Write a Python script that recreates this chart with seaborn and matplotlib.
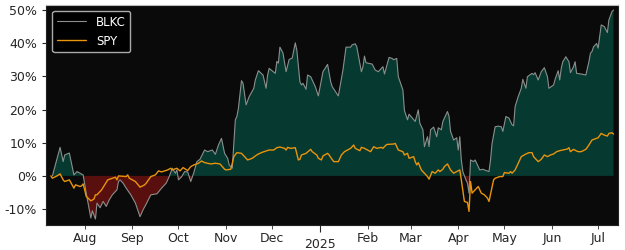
# ============================================
# BLKC vs SPY - rendimiento acumulado
# ============================================

import pandas as pd
import numpy as np
import matplotlib
matplotlib.use("Agg")
import matplotlib.pyplot as plt
import matplotlib.dates as mdates
import seaborn as sns


# 1 Datos (en %)

blkc_fechas = [
    "2024-07-11", "2024-07-16", "2024-07-18", "2024-07-19", "2024-07-22", "2024-07-25", "2024-07-27",
    "2024-07-29", "2024-07-31", "2024-08-02", "2024-08-05", "2024-08-06", "2024-08-08", "2024-08-09",
    "2024-08-11", "2024-08-13", "2024-08-15", "2024-08-17", "2024-08-19", "2024-08-22", "2024-08-23",
    "2024-08-24", "2024-08-26", "2024-08-28", "2024-08-31", "2024-09-03", "2024-09-06", "2024-09-08",
    "2024-09-10", "2024-09-13", "2024-09-17", "2024-09-20", "2024-09-23", "2024-09-25", "2024-09-27",
    "2024-09-29", "2024-09-30", "2024-10-01", "2024-10-03", "2024-10-05", "2024-10-07", "2024-10-09",
    "2024-10-11", "2024-10-13", "2024-10-15", "2024-10-18", "2024-10-20", "2024-10-23", "2024-10-25",
    "2024-10-27", "2024-10-29", "2024-10-31", "2024-11-02", "2024-11-03", "2024-11-05", "2024-11-07",
    "2024-11-08", "2024-11-09", "2024-11-11", "2024-11-12", "2024-11-14", "2024-11-16", "2024-11-19",
    "2024-11-20", "2024-11-22", "2024-11-25", "2024-11-27", "2024-11-28", "2024-11-29", "2024-12-03",
    "2024-12-04", "2024-12-05", "2024-12-06", "2024-12-08", "2024-12-10", "2024-12-12", "2024-12-14",
    "2024-12-16", "2024-12-17", "2024-12-19", "2024-12-20", "2024-12-21", "2024-12-23", "2024-12-24",
    "2024-12-26", "2024-12-29", "2024-12-31", "2025-01-03", "2025-01-06", "2025-01-08", "2025-01-09",
    "2025-01-13", "2025-01-16", "2025-01-18", "2025-01-21", "2025-01-22", "2025-01-24", "2025-01-25",
    "2025-01-28", "2025-01-29", "2025-01-30", "2025-01-31", "2025-02-04", "2025-02-06", "2025-02-08",
    "2025-02-11", "2025-02-12", "2025-02-15", "2025-02-17", "2025-02-18", "2025-02-20", "2025-02-21",
    "2025-02-24", "2025-02-25", "2025-02-27", "2025-02-28", "2025-03-04", "2025-03-06", "2025-03-07",
    "2025-03-09", "2025-03-10", "2025-03-12", "2025-03-13", "2025-03-14", "2025-03-16", "2025-03-18",
    "2025-03-19", "2025-03-21", "2025-03-22", "2025-03-25", "2025-03-26", "2025-03-27", "2025-03-29",
    "2025-03-31", "2025-04-01", "2025-04-02", "2025-04-03", "2025-04-04", "2025-04-06", "2025-04-07",
    "2025-04-08", "2025-04-09", "2025-04-11", "2025-04-12", "2025-04-14", "2025-04-15", "2025-04-17",
    "2025-04-18", "2025-04-21", "2025-04-22", "2025-04-23", "2025-04-25", "2025-04-27", "2025-04-29",
    "2025-04-30", "2025-05-02", "2025-05-04", "2025-05-06", "2025-05-07", "2025-05-08", "2025-05-10",
    "2025-05-12", "2025-05-13", "2025-05-15", "2025-05-16", "2025-05-19", "2025-05-20", "2025-05-21",
    "2025-05-23", "2025-05-25", "2025-05-27", "2025-05-29", "2025-05-30", "2025-06-02", "2025-06-03",
    "2025-06-05", "2025-06-06", "2025-06-07", "2025-06-08", "2025-06-10", "2025-06-12", "2025-06-13",
    "2025-06-15", "2025-06-16", "2025-06-17", "2025-06-20", "2025-06-23", "2025-06-25", "2025-06-26",
    "2025-06-27", "2025-06-28", "2025-06-30", "2025-07-01", "2025-07-03", "2025-07-05", "2025-07-07",
    "2025-07-08", "2025-07-10", "2025-07-11",
]
blkc_valores = [
    0.0, 8.6, 4.3, 6.3, 6.9, 0.3, 1.3,
    0.8, 0.3, -5.2, -12.7, -10.5, -13.0, -8.2,
    -9.6, -7.7, -9.2, -7.2, -5.7, -4.2, -1.7,
    -1.2, -2.2, -3.7, -5.7, -8.2, -12.3, -10.2,
    -8.5, -5.7, -5.4, -3.7, -2.2, -0.2, 2.3,
    0.8, 1.8, -1.2, -0.3, 1.3, 1.2, -1.7,
    1.0, 4.3, 5.0, 7.8, 7.3, 7.8, 6.5,
    9.3, 11.3, 6.8, 5.3, 3.3, 2.3, 16.9,
    17.9, 20.4, 28.7, 27.9, 21.4, 23.9, 26.4,
    28.9, 31.7, 30.4, 26.4, 30.4, 32.4, 30.9,
    34.5, 34.0, 38.8, 37.0, 31.4, 35.1, 35.5,
    40.1, 37.9, 28.4, 27.4, 27.9, 26.1, 30.4,
    29.9, 26.9, 24.1, 31.4, 33.6, 28.4, 26.9,
    24.1, 31.9, 38.8, 38.8, 39.5, 39.8, 38.9,
    31.4, 32.9, 36.1, 34.1, 33.7, 31.9, 31.4,
    32.9, 30.7, 35.7, 35.4, 35.0, 35.4, 29.9,
    25.9, 19.7, 16.9, 18.6, 16.4, 19.9, 15.9,
    13.9, 8.8, 11.8, 8.8, 13.9, 14.7, 11.8,
    14.5, 13.9, 16.4, 19.4, 18.0, 13.4, 10.8,
    11.5, 7.8, 11.8, 4.8, 1.3, -1.2, -2.2,
    -5.2, 4.8, 4.3, 4.8, 2.8, 1.8, 2.0,
    1.8, 1.3, 4.8, 9.8, 14.8, 15.0, 14.8,
    13.4, 17.9, 17.4, 15.4, 15.1, 20.9, 23.9,
    26.4, 29.1, 26.4, 29.9, 30.9, 30.5, 31.1,
    28.9, 31.4, 32.6, 29.9, 26.4, 27.4, 29.1,
    31.7, 28.9, 32.4, 34.4, 35.9, 34.4, 31.1,
    32.9, 34.4, 30.9, 30.7, 30.4, 34.4, 37.0,
    37.5, 38.9, 39.9, 38.5, 45.5, 45.0, 43.2,
    47.0, 49.5, 50.0,
]

spy_fechas = [
    "2024-07-10", "2024-07-11", "2024-07-14", "2024-07-16", "2024-07-18", "2024-07-19", "2024-07-22",
    "2024-07-23", "2024-07-25", "2024-07-26", "2024-07-29", "2024-07-30", "2024-07-31", "2024-08-01",
    "2024-08-02", "2024-08-05", "2024-08-07", "2024-08-08", "2024-08-09", "2024-08-12", "2024-08-14",
    "2024-08-16", "2024-08-19", "2024-08-21", "2024-08-22", "2024-08-23", "2024-08-28", "2024-08-29",
    "2024-08-30", "2024-09-03", "2024-09-06", "2024-09-09", "2024-09-10", "2024-09-13", "2024-09-16",
    "2024-09-18", "2024-09-20", "2024-09-24", "2024-09-26", "2024-09-27", "2024-09-30", "2024-10-02",
    "2024-10-04", "2024-10-07", "2024-10-09", "2024-10-11", "2024-10-14", "2024-10-16", "2024-10-18",
    "2024-10-22", "2024-10-25", "2024-10-28", "2024-10-31", "2024-11-01", "2024-11-04", "2024-11-05",
    "2024-11-06", "2024-11-08", "2024-11-11", "2024-11-13", "2024-11-15", "2024-11-18", "2024-11-20",
    "2024-11-22", "2024-11-25", "2024-11-29", "2024-12-02", "2024-12-04", "2024-12-06", "2024-12-09",
    "2024-12-10", "2024-12-11", "2024-12-13", "2024-12-16", "2024-12-18", "2024-12-19", "2024-12-20",
    "2024-12-23", "2024-12-26", "2024-12-27", "2024-12-30", "2024-12-31", "2025-01-02", "2025-01-03",
    "2025-01-06", "2025-01-07", "2025-01-08", "2025-01-10", "2025-01-13", "2025-01-15", "2025-01-17",
    "2025-01-21", "2025-01-23", "2025-01-24", "2025-01-27", "2025-01-28", "2025-01-30", "2025-02-03",
    "2025-02-05", "2025-02-07", "2025-02-10", "2025-02-11", "2025-02-13", "2025-02-14", "2025-02-18",
    "2025-02-19", "2025-02-21", "2025-02-24", "2025-02-25", "2025-02-27", "2025-02-28", "2025-03-03",
    "2025-03-04", "2025-03-05", "2025-03-06", "2025-03-08", "2025-03-10", "2025-03-12", "2025-03-13",
    "2025-03-15", "2025-03-17", "2025-03-19", "2025-03-20", "2025-03-22", "2025-03-23", "2025-03-25",
    "2025-03-27", "2025-03-29", "2025-03-31", "2025-04-02", "2025-04-03", "2025-04-05", "2025-04-07",
    "2025-04-08", "2025-04-09", "2025-04-10", "2025-04-12", "2025-04-14", "2025-04-16", "2025-04-18",
    "2025-04-20", "2025-04-21", "2025-04-24", "2025-04-25", "2025-04-28", "2025-04-30", "2025-05-01",
    "2025-05-04", "2025-05-05", "2025-05-06", "2025-05-08", "2025-05-10", "2025-05-12", "2025-05-15",
    "2025-05-17", "2025-05-19", "2025-05-20", "2025-05-22", "2025-05-23", "2025-05-25", "2025-05-27",
    "2025-05-29", "2025-05-31", "2025-06-02", "2025-06-04", "2025-06-06", "2025-06-08", "2025-06-11",
    "2025-06-12", "2025-06-13", "2025-06-15", "2025-06-17", "2025-06-18", "2025-06-20", "2025-06-23",
    "2025-06-25", "2025-06-27", "2025-06-30", "2025-07-01", "2025-07-03", "2025-07-05", "2025-07-07",
    "2025-07-08", "2025-07-10", "2025-07-11",
]
spy_valores = [
    0.0, -0.7, 0.0, 0.6, -1.2, -1.7, -1.2,
    -2.0, -3.7, -2.7, -3.2, -3.0, -2.4, -4.2,
    -6.2, -7.5, -7.0, -5.7, -5.7, -4.2, -2.7,
    -1.2, -0.7, -0.4, -1.2, 0.0, -0.2, 0.3,
    -0.7, -1.7, -3.4, -2.7, -2.2, -0.2, 0.3,
    1.5, 1.2, 1.8, 2.3, 1.8, 2.3, 1.5,
    2.5, 1.6, 2.8, 3.3, 3.8, 4.5, 4.0,
    3.6, 3.8, 3.6, 2.0, 1.8, 2.0, 3.8,
    5.8, 7.0, 6.8, 5.8, 4.8, 5.3, 6.0,
    6.6, 7.2, 7.8, 7.8, 8.5, 8.7, 8.3,
    7.8, 8.6, 8.3, 8.5, 4.8, 5.0, 6.3,
    6.8, 8.0, 7.3, 6.3, 5.3, 4.8, 6.0,
    6.8, 6.3, 5.6, 4.3, 4.3, 6.3, 7.3,
    8.3, 9.3, 8.3, 7.6, 8.6, 8.3, 7.3,
    8.8, 8.3, 8.6, 8.3, 9.3, 9.5, 9.6,
    9.8, 7.8, 7.3, 6.3, 6.8, 5.3, 5.8,
    4.3, 3.3, 4.0, 1.8, 0.8, -0.2, -1.0,
    1.3, 0.8, 1.8, 1.3, 2.0, 2.8, 3.6,
    1.8, 0.8, 1.3, 1.8, -1.2, -7.7, -8.0,
    -10.7, -1.7, -5.2, -4.2, -3.2, -5.2, -5.7,
    -6.7, -7.7, -1.2, -0.7, -0.2, -0.2, 1.0,
    0.8, 1.3, 0.8, 1.8, 3.8, 5.8, 6.6,
    7.0, 7.0, 5.8, 4.8, 4.3, 5.0, 6.3,
    5.8, 6.3, 6.6, 7.3, 7.6, 7.8, 8.1,
    8.5, 7.3, 8.0, 7.5, 7.3, 7.3, 8.0,
    9.3, 10.8, 11.3, 11.5, 12.8, 12.3, 12.0,
    12.8, 13.0, 12.6,
]

df_blkc = pd.DataFrame({"fecha": pd.to_datetime(blkc_fechas), "valor": blkc_valores})
df_spy = pd.DataFrame({"fecha": pd.to_datetime(spy_fechas), "valor": spy_valores})


# 2 Grafico

sns.set_style("ticks")

fig = plt.figure(figsize=(6.25, 2.5), dpi=100)
ax = fig.add_axes([0.074, 0.10, 0.915, 0.88])
ax.set_facecolor("#0a0a0a")

# relleno verde sobre 0, rojo debajo
x = df_blkc["fecha"].values
y = df_blkc["valor"].values
ax.fill_between(x, y, 0, where=y >= 0, interpolate=True, color="#06392f", linewidth=0)
ax.fill_between(x, y, 0, where=y < 0, interpolate=True, color="#5a0f0f", linewidth=0)

sns.lineplot(data=df_blkc, x="fecha", y="valor", ax=ax, color="#8a8f8d", linewidth=0.8, label="BLKC")
sns.lineplot(data=df_spy, x="fecha", y="valor", ax=ax, color="#e8940c", linewidth=1.0, label="SPY")

ax.set_xlim(pd.Timestamp("2024-07-07"), pd.Timestamp("2025-07-14"))
ax.set_ylim(-14.8, 51.5)
ax.set_xlabel("")
ax.set_ylabel("")

ax.set_yticks([-10, 0, 10, 20, 30, 40, 50])
ax.set_yticklabels([f"{v}%" for v in [-10, 0, 10, 20, 30, 40, 50]])

# fechas: año como tick mayor, meses como menores
ax.xaxis.set_major_locator(mdates.YearLocator())
ax.xaxis.set_major_formatter(mdates.DateFormatter("%Y"))
ax.xaxis.set_minor_locator(mdates.MonthLocator(bymonth=[2, 3, 4, 5, 6, 7, 8, 9, 10, 11, 12]))
ax.xaxis.set_minor_formatter(mdates.DateFormatter("%b"))

ax.tick_params(axis="x", which="major", length=5, labelsize=9, pad=4)
ax.tick_params(axis="x", which="minor", length=3, labelsize=9, pad=2)
ax.tick_params(axis="y", length=3, labelsize=9)

for s in ax.spines.values():
    s.set_color("#222222")
    s.set_linewidth(0.8)
ax.spines["top"].set_color("#bbbbbb")

ax.legend(loc="upper left", fontsize=8.5, facecolor="black", edgecolor="#aaaaaa",
          labelcolor="white", framealpha=1, handlelength=2.5)

fig.savefig("out.png", dpi=100)
